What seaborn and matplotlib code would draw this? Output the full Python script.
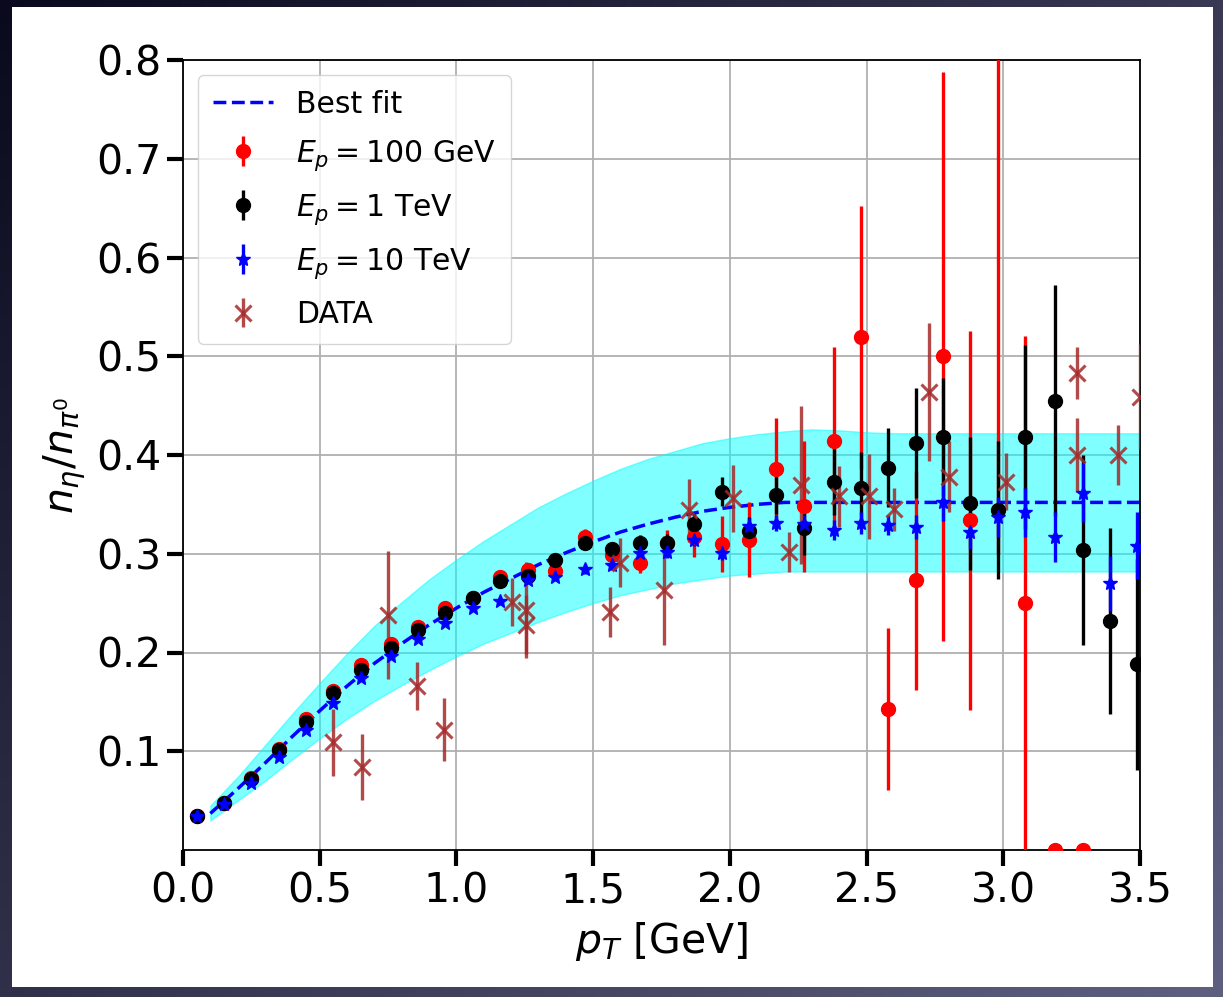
import numpy as np
import matplotlib
matplotlib.use("Agg")
import matplotlib.pyplot as plt
from matplotlib.patches import Rectangle
import seaborn as sns

nan = np.nan

# transverse-momentum bin centres of the simulated ratios (GeV)
pt_bins = [0.05, 0.15, 0.25, 0.35, 0.45, 0.55, 0.65, 0.76, 0.86, 0.96,
           1.06, 1.16, 1.26, 1.36, 1.47, 1.57, 1.67, 1.77, 1.87, 1.97,
           2.07, 2.17, 2.27, 2.38, 2.48, 2.58, 2.68, 2.78, 2.88, 2.98,
           3.08, 3.19, 3.29, 3.39, 3.49]

# eta / pi0 ratio for E_p = 100 GeV
ratio_100gev = [0.034, 0.048, 0.073, 0.102, 0.133, 0.161, 0.187, 0.209, 0.226, 0.245,
                0.255, 0.276, 0.284, 0.283, 0.317, 0.299, 0.291, 0.311, 0.317, 0.310,
                0.314, 0.386, 0.348, 0.414, 0.519, 0.143, 0.273, 0.500, 0.334, 0.950,
                0.250, 0.000, 0.000, nan, nan]
err_100gev = [0.002, 0.002, 0.003, 0.003, 0.004, 0.004, 0.005, 0.005, 0.005, 0.006,
              0.006, 0.007, 0.007, 0.008, 0.008, 0.009, 0.010, 0.013, 0.020, 0.028,
              0.038, 0.051, 0.066, 0.095, 0.133, 0.082, 0.111, 0.288, 0.192, 0.650,
              0.270, 0.000, 0.000, nan, nan]

# eta / pi0 ratio for E_p = 1 TeV
ratio_1tev = [0.034, 0.048, 0.072, 0.101, 0.130, 0.159, 0.182, 0.205, 0.223, 0.240,
              0.255, 0.272, 0.277, 0.294, 0.311, 0.305, 0.311, 0.311, 0.330, 0.363,
              0.323, 0.360, 0.326, 0.373, 0.367, 0.387, 0.412, 0.418, 0.351, 0.344,
              0.418, 0.455, 0.304, 0.232, 0.188]
err_1tev = [0.001, 0.001, 0.002, 0.002, 0.002, 0.003, 0.003, 0.003, 0.004, 0.004,
            0.004, 0.005, 0.005, 0.006, 0.006, 0.007, 0.008, 0.009, 0.011, 0.015,
            0.014, 0.020, 0.027, 0.034, 0.036, 0.040, 0.056, 0.060, 0.067, 0.070,
            0.093, 0.117, 0.096, 0.094, 0.107]

# eta / pi0 ratio for E_p = 10 TeV
ratio_10tev = [0.034, 0.047, 0.068, 0.094, 0.122, 0.149, 0.174, 0.196, 0.214, 0.230,
               0.245, 0.252, 0.273, 0.276, 0.285, 0.289, 0.301, 0.302, 0.314, 0.301,
               0.328, 0.331, 0.330, 0.324, 0.331, 0.329, 0.327, 0.352, 0.322, 0.337,
               0.342, 0.317, 0.362, 0.270, 0.308]
err_10tev = [0.001, 0.001, 0.001, 0.002, 0.002, 0.002, 0.002, 0.003, 0.003, 0.003,
             0.003, 0.004, 0.004, 0.004, 0.005, 0.005, 0.005, 0.006, 0.006, 0.007,
             0.008, 0.008, 0.009, 0.010, 0.011, 0.010, 0.012, 0.019, 0.017, 0.020,
             0.025, 0.025, 0.030, 0.028, 0.034]

# measured eta / pi0 ratios
data_pt = [0.55, 0.655, 0.75, 0.855, 0.955, 1.205, 1.253, 1.253, 1.56, 1.60,
           1.76, 1.85, 2.01, 2.215, 2.26, 2.40, 2.51, 2.60, 2.73, 2.80,
           3.01, 3.27, 3.27, 3.42, 3.50]
data_ratio = [0.109, 0.084, 0.238, 0.166, 0.122, 0.251, 0.243, 0.228, 0.241, 0.291,
              0.263, 0.344, 0.356, 0.302, 0.370, 0.358, 0.358, 0.345, 0.464, 0.378,
              0.373, 0.483, 0.400, 0.400, 0.459]
data_err = [0.034, 0.033, 0.065, 0.024, 0.032, 0.024, 0.049, 0.030, 0.025, 0.025,
            0.055, 0.032, 0.034, 0.020, 0.080, 0.031, 0.043, 0.022, 0.070, 0.036,
            0.029, 0.026, 0.037, 0.030, 0.053]

# best-fit curve and its uncertainty band
fit_pt = [0.1, 0.2, 0.3, 0.4, 0.5, 0.6, 0.7, 0.8, 0.9, 1.0,
          1.1, 1.2, 1.3, 1.4, 1.5, 1.6, 1.7, 1.8, 1.9, 2.0,
          2.1, 2.2, 2.3, 2.4, 2.5, 2.6, 2.7, 2.8, 2.9, 3.0,
          3.1, 3.2, 3.3, 3.4, 3.5]
fit_ratio = [0.037, 0.062, 0.088, 0.115, 0.141, 0.166, 0.189, 0.209, 0.228, 0.245,
             0.261, 0.275, 0.289, 0.301, 0.312, 0.322, 0.330, 0.337, 0.343, 0.347,
             0.350, 0.352, 0.352, 0.352, 0.352, 0.352, 0.352, 0.352, 0.352, 0.352,
             0.352, 0.352, 0.352, 0.352, 0.352]
band_upper = [0.045, 0.074, 0.106, 0.138, 0.169, 0.199, 0.227, 0.251, 0.274, 0.294,
              0.313, 0.330, 0.347, 0.361, 0.374, 0.386, 0.396, 0.404, 0.412, 0.417,
              0.421, 0.424, 0.426, 0.425, 0.423, 0.422, 0.422, 0.422, 0.422, 0.422,
              0.422, 0.422, 0.422, 0.422, 0.422]
band_lower = [0.030, 0.050, 0.070, 0.092, 0.113, 0.133, 0.151, 0.167, 0.182, 0.196,
              0.209, 0.220, 0.231, 0.241, 0.250, 0.258, 0.264, 0.270, 0.274, 0.278,
              0.280, 0.282, 0.282, 0.282, 0.282, 0.282, 0.282, 0.282, 0.282, 0.282,
              0.282, 0.282, 0.282, 0.282, 0.282]

x_ticks = [0.0, 0.5, 1.0, 1.5, 2.0, 2.5, 3.0, 3.5]
y_ticks = [0.1, 0.2, 0.3, 0.4, 0.5, 0.6, 0.7, 0.8]

sns.set_style("ticks")
plt.rcParams["font.family"] = ["DejaVu Sans"]
plt.rcParams["mathtext.fontset"] = "dejavusans"
plt.rcParams["text.color"] = "black"
plt.rcParams["axes.labelcolor"] = "black"
plt.rcParams["xtick.color"] = "black"
plt.rcParams["ytick.color"] = "black"
plt.rcParams["xtick.labelcolor"] = "black"
plt.rcParams["ytick.labelcolor"] = "black"

W, H = 1223, 997
fig = plt.figure(figsize=(W / 100, H / 100), dpi=100)

# slide-style dark frame with a white card behind the plot
bg = fig.add_axes([0, 0, 1, 1], zorder=-10)
gx, gy = np.meshgrid(np.linspace(0, 1, 256), np.linspace(0, 1, 256))
t = 0.55 * gx + 0.45 * gy
c0 = np.array([10, 10, 30]) / 255.0
c1 = np.array([95, 95, 128]) / 255.0
grad = c0[None, None, :] * (1 - t[..., None]) + c1[None, None, :] * t[..., None]
bg.imshow(grad, extent=[0, 1, 0, 1], origin="upper", aspect="auto")
bg.add_patch(Rectangle((12 / W, 1 - 987 / H), (1213 - 12) / W, (987 - 7) / H,
                       facecolor="white", edgecolor="none"))
bg.set_xlim(0, 1)
bg.set_ylim(0, 1)
bg.axis("off")

ax = fig.add_axes([183 / W, 1 - 850 / H, (1140 - 183) / W, (850 - 60) / H])
ax.set_facecolor("white")

ax.fill_between(fit_pt, band_lower, band_upper, color="cyan", alpha=0.5, zorder=1)
sns.lineplot(x=fit_pt, y=fit_ratio, ax=ax, color="blue", linestyle="--",
             linewidth=2.5, zorder=2, label="Best fit", legend=False)
fit_line = ax.lines[-1]

eb_kw = dict(linestyle="none", elinewidth=2.4, capsize=0, zorder=3)
h100 = ax.errorbar(pt_bins, ratio_100gev, yerr=err_100gev, fmt="o", color="red",
                   markersize=10, label=r"$E_p = 100$ GeV", **eb_kw)
h1 = ax.errorbar(pt_bins, ratio_1tev, yerr=err_1tev, fmt="o", color="black",
                 markersize=10, label=r"$E_p = 1$ TeV", **eb_kw)
h10 = ax.errorbar(pt_bins, ratio_10tev, yerr=err_10tev, fmt="*", color="blue",
                  markersize=10, label=r"$E_p = 10$ TeV", **eb_kw)
hd = ax.errorbar(data_pt, data_ratio, yerr=data_err, fmt="x", color="brown",
                 alpha=0.85, markersize=11, markeredgewidth=2.2,
                 label="DATA", **eb_kw)

ax.set_xlim(0.0, 3.5)
ax.set_ylim(0.0, 0.8)
ax.set_xticks(x_ticks)
ax.set_yticks(y_ticks)
ax.set_xticklabels([f"{v:.1f}" for v in x_ticks])
ax.set_yticklabels([f"{v:.1f}" for v in y_ticks])
ax.grid(True, color="#b0b0b0", linewidth=1.3)
ax.set_axisbelow(True)
ax.tick_params(axis="both", which="major", direction="out", length=11.5, width=3,
               color="black", labelcolor="black", labelsize=29.5, pad=4)
for sp in ax.spines.values():
    sp.set_visible(True)
    sp.set_color("black")
    sp.set_linewidth(1.3)

ax.set_xlabel(r"$p_T$ [GeV]", fontsize=29.5, labelpad=6, color="black")
ax.set_ylabel(r"$n_\eta/n_{\pi^0}$", fontsize=29.5, labelpad=6, color="black")

leg = ax.legend(handles=[fit_line, h100, h1, h10, hd],
                labels=["Best fit", r"$E_p = 100$ GeV", r"$E_p = 1$ TeV",
                        r"$E_p = 10$ TeV", "DATA"],
                loc="upper left", fontsize=21.5, frameon=True, framealpha=0.8,
                edgecolor="0.8", fancybox=True, labelspacing=0.64,
                borderpad=0.5)
for txt in leg.get_texts():
    txt.set_color("black")

fig.savefig("out.png", dpi=100)
